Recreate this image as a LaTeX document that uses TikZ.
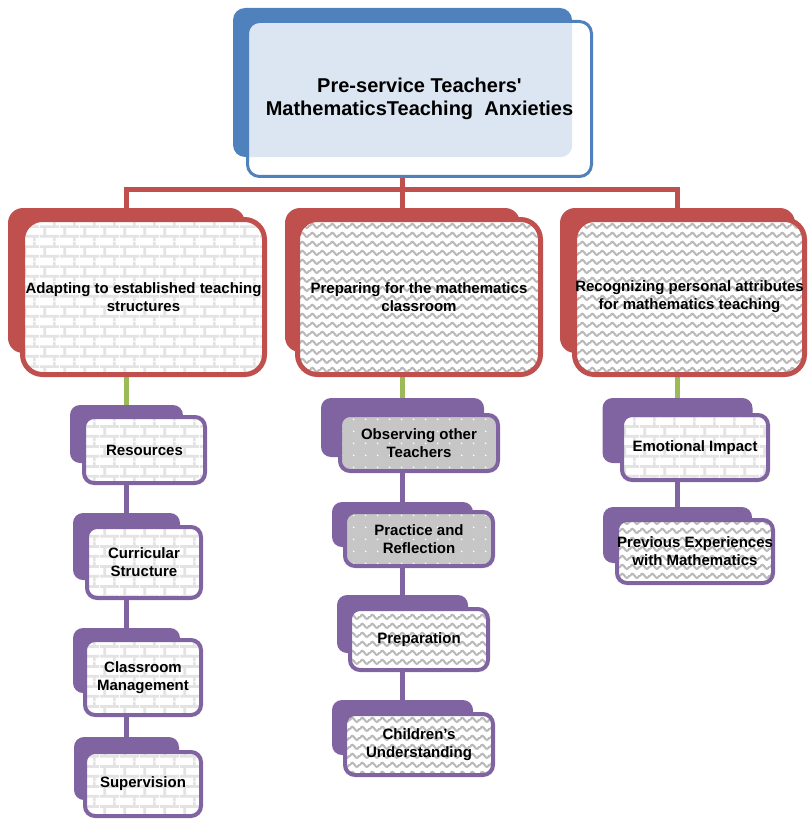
\documentclass[tikz,border=0pt]{standalone}
\usepackage{fontspec}
\setmainfont{Liberation Sans}
\usepackage{tikz}
\usetikzlibrary{patterns}
\usepackage{xcolor}
\definecolor{dblue}{RGB}{79,129,189}
\definecolor{lblue}{RGB}{220,230,242}
\definecolor{dred}{RGB}{192,80,77}
\definecolor{dpurple}{RGB}{128,100,162}
\definecolor{dgreen}{RGB}{155,187,89}

\pgfdeclarepatternformonly{brickwall}{\pgfpointorigin}{\pgfpoint{20pt}{20pt}}{\pgfpoint{20pt}{20pt}}{
  \pgfsetlinewidth{2.8pt}
  \pgfpathmoveto{\pgfpoint{0pt}{5pt}}\pgfpathlineto{\pgfpoint{20pt}{5pt}}
  \pgfpathmoveto{\pgfpoint{0pt}{15pt}}\pgfpathlineto{\pgfpoint{20pt}{15pt}}
  \pgfpathmoveto{\pgfpoint{5pt}{5pt}}\pgfpathlineto{\pgfpoint{5pt}{15pt}}
  \pgfpathmoveto{\pgfpoint{15pt}{15pt}}\pgfpathlineto{\pgfpoint{15pt}{20pt}}
  \pgfpathmoveto{\pgfpoint{15pt}{0pt}}\pgfpathlineto{\pgfpoint{15pt}{5pt}}
  \pgfusepath{stroke}
}
\pgfdeclarepatternformonly{wavy}{\pgfpointorigin}{\pgfpoint{10pt}{8.6pt}}{\pgfpoint{10pt}{8.6pt}}{
  \pgfsetlinewidth{2.2pt}\pgfsetroundcap
  \pgfpathmoveto{\pgfpoint{0pt}{4.3pt}}
  \pgfpathsine{\pgfpoint{2.5pt}{2.1pt}}
  \pgfpathcosine{\pgfpoint{2.5pt}{-2.1pt}}
  \pgfpathsine{\pgfpoint{2.5pt}{-2.1pt}}
  \pgfpathcosine{\pgfpoint{2.5pt}{2.1pt}}
  \pgfusepath{stroke}
}
\pgfdeclarepatternformonly{sparkle}{\pgfpointorigin}{\pgfpoint{12pt}{12pt}}{\pgfpoint{12pt}{12pt}}{
  \pgfpathcircle{\pgfpoint{6pt}{6pt}}{1pt}\pgfusepath{fill}
}

\begin{document}
\begin{tikzpicture}[x=1pt, y=-1pt,
  every node/.style={inner sep=0pt, align=center, font=\bfseries\fontsize{15}{18}\selectfont},
  redback/.style={fill=dred, rounded corners=15pt},
  purpback/.style={fill=dpurple, rounded corners=10pt},
  redbox/.style={draw=dred, line width=5pt, rounded corners=20pt},
  purpbox/.style={draw=dpurple, line width=4pt, rounded corners=10pt},
  brickfill/.style={preaction={fill=white}, pattern=brickwall, pattern color=gray!22},
  wavefill/.style={preaction={fill=white}, pattern=wavy, pattern color=gray!55},
  dotfill/.style={preaction={fill=gray!45}, pattern=sparkle, pattern color=white},
  redline/.style={draw=dred, line width=5pt},
  greenline/.style={draw=dgreen, line width=4.5pt},
  purpline/.style={draw=dpurple, line width=5pt}]
\useasboundingbox (0,0) rectangle (808,821);

% back boxes
\node (rootB) [fill=dblue, rounded corners=12pt, minimum width=339pt, minimum height=149pt] at (402.5,82.5) {};
\node (adaptB) [redback, minimum width=237pt, minimum height=145pt] at (126.5,280.5) {};
\node (prepB) [redback, minimum width=235pt, minimum height=144pt] at (402.5,280) {};
\node (recogB) [redback, minimum width=235pt, minimum height=145pt] at (677.5,280.5) {};
\node (resB) [purpback, minimum width=113pt, minimum height=58pt] at (126.5,434) {};
\node (curB) [purpback, minimum width=107pt, minimum height=67pt] at (126.5,546.5) {};
\node (clsB) [purpback, minimum width=107pt, minimum height=65pt] at (126.5,660.5) {};
\node (supB) [purpback, minimum width=105pt, minimum height=63pt] at (126.5,768.5) {};
\node (obsB) [purpback, minimum width=163pt, minimum height=59pt] at (402.5,427.5) {};
\node (pracB) [purpback, minimum width=141pt, minimum height=45pt] at (402.5,524.5) {};
\node (prepnB) [purpback, minimum width=131pt, minimum height=58pt] at (402.5,624) {};
\node (childB) [purpback, minimum width=141pt, minimum height=55pt] at (402.5,727.5) {};
\node (emoB) [purpback, minimum width=150pt, minimum height=65pt] at (677.5,430.5) {};
\node (prevB) [purpback, minimum width=149pt, minimum height=56pt] at (677.5,535) {};

% connectors
\coordinate (bus) at (402.5,189);
\draw [redline] (rootB.south) -- (bus);
\draw [redline] (adaptB.north) |- (bus) -| (recogB.north);
\draw [redline] (bus) -- (prepB.north);
\foreach \a/\b in {adaptB/resB, prepB/obsB, recogB/emoB}
  \draw [greenline] (\a.south) -- (\b.north);
\foreach \a/\b in {resB/curB, curB/clsB, clsB/supB, obsB/pracB, pracB/prepnB, prepnB/childB, emoB/prevB}
  \draw [purpline] (\a.south) -- (\b.north);

% front boxes
\node (root) [draw=dblue, line width=3pt, fill=white, rounded corners=12pt,
  minimum width=344pt, minimum height=155pt, font=\bfseries\fontsize{20}{23}\selectfont,
  path picture={\clip [rounded corners=12pt] (rootB.north west) rectangle (rootB.south east);
    \fill [lblue] (path picture bounding box.north west) rectangle (path picture bounding box.south east);}]
  at (419.5,99) {Pre-service Teachers\textquotesingle\\MathematicsTeaching\ \ Anxieties};
\node (adapt) [redbox, brickfill, minimum width=242pt, minimum height=155pt] at (143.5,297) {Adapting to established teaching\\structures};
\node (prep) [redbox, wavefill, minimum width=243pt, minimum height=155pt] at (419,297) {Preparing for the mathematics\\classroom};
\node (recog) [redbox, wavefill, minimum width=230pt, minimum height=155pt] at (689.5,297) {Recognizing personal attributes\\for mathematics teaching};

\node (res) [purpbox, brickfill, minimum width=121pt, minimum height=66pt] at (144.5,450) {Resources};
\node (cur) [purpbox, brickfill, minimum width=114pt, minimum height=71pt] at (144,562.5) {Curricular\\Structure};
\node (cls) [purpbox, brickfill, minimum width=116pt, minimum height=75pt] at (143,677.5) {Classroom\\Management};
\node (sup) [purpbox, brickfill, minimum width=116pt, minimum height=64pt] at (143,784) {Supervision};

\node (obs) [purpbox, dotfill, minimum width=158pt, minimum height=56pt] at (419,443) {Observing other\\Teachers};
\node (prac) [purpbox, dotfill, minimum width=148pt, minimum height=54pt] at (419,539) {Practice and\\Reflection};
\node (prepn) [purpbox, wavefill, minimum width=138pt, minimum height=61pt] at (419,639.5) {Preparation};
\node (child) [purpbox, wavefill, minimum width=148pt, minimum height=61pt] at (419,744.5) {Children's\\Understanding};

\node (emo) [purpbox, brickfill, minimum width=146pt, minimum height=65pt] at (695,447.5) {Emotional Impact};
\node (prev) [purpbox, wavefill, minimum width=156pt, minimum height=63pt] at (695,551.5) {Previous Experiences\\with Mathematics};
\end{tikzpicture}
\end{document}
